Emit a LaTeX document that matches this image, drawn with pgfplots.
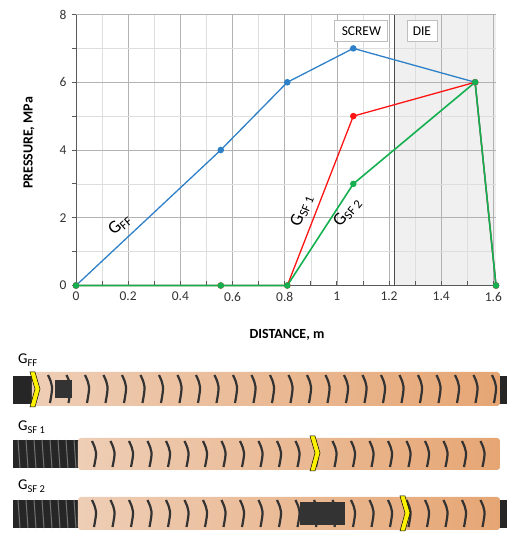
\documentclass[border=0pt]{standalone}
\usepackage{pgfplots}
\pgfplotsset{compat=1.18}
\usepackage{fontspec}
\setmainfont{Carlito}
\definecolor{cblue}{RGB}{46,128,200}
\definecolor{cred}{RGB}{255,20,20}
\definecolor{cgreen}{RGB}{20,176,80}
\definecolor{tanL}{RGB}{238,206,182}
\definecolor{tanR}{RGB}{230,166,116}
\newcommand\chev[2]{\filldraw[fill=yellow, draw=black, line width=0.5bp] (#1,#2)--(#1+5,#2)--(#1+10,#2+17)--(#1+5,#2+35)--(#1,#2+35)--(#1+5,#2+17)--cycle;}
\begin{document}
\begin{tikzpicture}
\begin{axis}[
  set layers,
  at={(0,0)}, anchor=south west,
  scale only axis, width=420bp, height=271bp,
  xmin=0, xmax=1.61, ymin=0, ymax=8,
  clip=false,
  xtick={0,0.2,...,1.6}, minor x tick num=1,
  ytick={0,2,...,8}, minor y tick num=1,
  grid=both,
  major grid style={black!30, line width=0.6bp},
  minor grid style={black!13, line width=0.5bp},
  axis x line*=bottom, axis y line*=left,
  axis line style={-, draw=black!65, line width=1pt},
  x tick style={black!65, line width=0.8pt},
  y tick style={black!65, line width=0.8pt},
  xtick align=inside, ytick align=outside,
  major tick length=4bp, minor tick length=4bp,
  tick label style={font=\fontsize{13.5}{15}\selectfont, text=black!80},
  /pgf/number format/assume math mode=true,
  xticklabel style={yshift=-3bp},
  yticklabel style={xshift=-2bp},
]
\addplot[fill=black!6, draw=none, mark=none, forget plot, on layer=axis background] coordinates {(1.22,0) (1.61,0) (1.61,8) (1.22,8)} -- cycle;
\addplot[black!70, line width=0.9bp, mark=none, forget plot] coordinates {(1.22,0) (1.22,8)};
\addplot[cblue, line width=1.3bp, mark=*, mark size=2.6bp, mark options={fill=cblue}] coordinates {(0,0) (0.555,4) (0.81,6) (1.063,7) (1.53,6) (1.61,0)};
\addplot[cred, line width=1.3bp, mark=*, mark size=2.6bp, mark options={fill=cred}] coordinates {(0,0) (0.555,0) (0.81,0) (1.063,5) (1.53,6) (1.61,0)};
\addplot[cgreen, line width=1.6bp, mark=*, mark size=2.7bp, mark options={fill=cgreen, line width=1bp}] coordinates {(0,0) (0.555,0) (0.81,0) (1.063,3) (1.53,6) (1.61,0)};
\node[draw=black!25, fill=white, line width=0.8bp, minimum width=53bp, minimum height=21bp, inner sep=1bp, font=\fontsize{13.5}{15}\selectfont] at (axis cs:1.094,7.52) {SCREW};
\node[draw=black!25, fill=white, line width=0.8bp, minimum width=30bp, minimum height=21bp, inner sep=1bp, font=\fontsize{13.5}{15}\selectfont] at (axis cs:1.326,7.52) {DIE};
\node[rotate=40, inner sep=0, font=\fontsize{18}{20}\selectfont] at (axis cs:0.168,1.80) {G\textsubscript{FF}};
\node[rotate=68, inner sep=0, font=\fontsize{18}{20}\selectfont] at (axis cs:0.866,2.22) {G\textsubscript{SF 1}};
\node[rotate=50, inner sep=0, font=\fontsize{18}{20}\selectfont] at (axis cs:1.04,2.17) {G\textsubscript{SF 2}};
\end{axis}
\begin{scope}[shift={(-76bp,285.5bp)}, x=1bp, y=-1bp]
% axis titles
\node[font=\bfseries\fontsize{14}{16}\selectfont] at (287,335) {DISTANCE, m};
\node[rotate=90, font=\bfseries\fontsize{14}{16}\selectfont] at (29,143) {PRESSURE, MPa};
% row labels
\node[anchor=base west, inner sep=0, font=\fontsize{15}{17}\selectfont] at (18,364) {G\textsubscript{FF}};
\node[anchor=base west, inner sep=0, font=\fontsize{15}{17}\selectfont] at (18,431) {G\textsubscript{SF 1}};
\node[anchor=base west, inner sep=0, font=\fontsize{15}{17}\selectfont] at (18,490) {G\textsubscript{SF 2}};
% row 1
\fill[black!85] (13,376) rectangle (507,404);
\shade[left color=tanL, right color=tanR, rounded corners=3bp] (32,372) rectangle (500,406);
\fill[black!80] (55,380) rectangle (72,398);
\foreach \xx in {48,66.5,...,495} \draw[black!80, line width=2.2bp] (\xx,375) .. controls (\xx+5,386) .. (\xx+2,403);
\chev{30}{372}
% row 2
\fill[black!85] (13,440) rectangle (80,468);
\foreach \xx in {18,26,...,74} \draw[black!55, line width=1bp] (\xx,440) -- (\xx+2,468);
\shade[left color=tanL, right color=tanR, rounded corners=3bp] (78,438) rectangle (500,470);
\foreach \xx in {92,110.5,...,495} \draw[black!80, line width=2.2bp] (\xx,441) .. controls (\xx+5,452) .. (\xx+2,467);
\chev{310}{436}
% row 3
\fill[black!85] (13,500) rectangle (507,528);
\foreach \xx in {18,26,...,74} \draw[black!55, line width=1bp] (\xx,500) -- (\xx+2,528);
\shade[left color=tanL, right color=tanR, rounded corners=3bp] (78,497) rectangle (500,530);
\fill[black!80] (300,502) rectangle (345,525);
\foreach \xx in {92,110.5,...,495} \draw[black!80, line width=2.2bp] (\xx,500) .. controls (\xx+5,511) .. (\xx+2,527);
\chev{400}{496}
\end{scope}
\useasboundingbox (-76bp,-264.5bp) rectangle (452bp,285.5bp);
\end{tikzpicture}
\end{document}
